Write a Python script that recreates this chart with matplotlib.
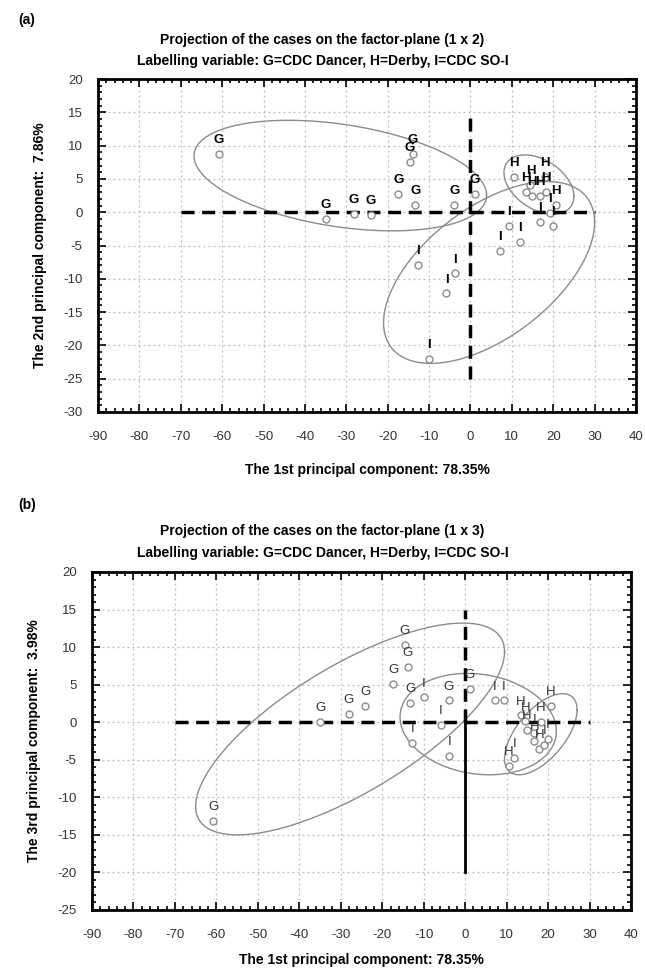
import numpy as np
import matplotlib
matplotlib.use("Agg")
import matplotlib.pyplot as plt
from matplotlib.ticker import MultipleLocator

plt.rcParams['font.family'] = ['Liberation Sans', 'DejaVu Sans']
plt.rcParams['axes.unicode_minus'] = False

# ---------------- data ----------------
g_pc1 = [-60.8, -35.0, -28.1, -24.1, -17.4, -13.9, -14.6, -13.3, -3.9, 1.1]
g_pc2 = [8.8, -1.0, -0.25, -0.35, 2.8, 8.8, 7.6, 1.1, 1.1, 2.8]
g_pc3 = [-13.2, 0.0, 1.1, 2.2, 5.1, 7.4, 10.3, 2.6, 2.9, 4.4]

h_pc1 = [10.6, 13.5, 14.5, 14.8, 16.7, 17.9, 18.3, 20.7]
h_pc2 = [5.3, 3.0, 4.1, 2.4, 2.4, 5.3, 3.0, 1.1]
h_pc3 = [-5.8, 0.9, 0.1, -1.0, -2.5, -3.5, 0.0, 2.2]

i_pc1 = [-12.7, -10.0, -5.8, -3.8, 7.2, 9.3, 11.9, 16.7, 19.1, 20.0]
i_pc2 = [-7.9, -22.0, -12.2, -9.2, -5.8, -2.0, -4.5, -1.5, -0.1, -2.0]
i_pc3 = [-2.8, 3.3, -0.4, -4.5, 2.9, 2.9, -4.8, -1.5, -3.0, -2.2]

group_labels = ['G', 'H', 'I']

# ellipses: (xmin, xmax, ymin, ymax, rho)
ell_a = [(-66.8, 3.9, -2.8, 13.8, -0.355),
         (8.1, 25.0, -0.3, 8.6, -0.40),
         (-21.0, 30.0, -22.7, 4.6, 0.553)]
ell_b = [(-65.0, 9.5, -15.0, 13.2, 0.73),
         (9.5, 27.0, -7.0, 3.8, 0.60),
         (-15.7, 22.0, -7.0, 6.5, -0.14)]

title_a = "Projection of the cases on the factor-plane (1 x 2)"
title_b = "Projection of the cases on the factor-plane (1 x 3)"
subtitle = "Labelling variable: G=CDC Dancer, H=Derby, I=CDC SO-I"
xlab = "The 1st principal component: 78.35%"
ylab_a = "The 2nd principal component:  7.86%"
ylab_b = "The 3rd principal component:  3.98%"

W, H = 645, 973
fig = plt.figure(figsize=(W / 100, H / 100), dpi=100)

def px_axes(l, r, t, b):
    return fig.add_axes([l / W, 1 - b / H, (r - l) / W, (b - t) / H])

def ellipse(ax, spec):
    xmin, xmax, ymin, ymax, rho = spec
    cx, rx = (xmin + xmax) / 2, (xmax - xmin) / 2
    cy, ry = (ymin + ymax) / 2, (ymax - ymin) / 2
    d = np.arccos(rho)
    t = np.linspace(0, 2 * np.pi, 400)
    ax.plot(cx + rx * np.cos(t), cy + ry * np.cos(t - d), color='#8c8c8c', lw=1.0, zorder=2)

def style_axes(ax, ylim, ymaj):
    ax.set_xlim(-90, 40)
    ax.set_ylim(*ylim)
    ax.xaxis.set_major_locator(MultipleLocator(10))
    ax.xaxis.set_minor_locator(MultipleLocator(2))
    ax.yaxis.set_major_locator(MultipleLocator(ymaj))
    ax.yaxis.set_minor_locator(MultipleLocator(1))
    ax.tick_params(which='both', direction='in', top=True, right=True,
                   labelsize=9.5, labelcolor='#333333', width=1.2)
    ax.tick_params(which='major', length=6)
    ax.tick_params(which='minor', length=3)
    ax.tick_params(axis='x', which='major', pad=14)
    ax.tick_params(axis='y', which='major', pad=11)
    for s in ax.spines.values():
        s.set_linewidth(2.0)
    ax.grid(True, which='major', color='#bdbdbd', ls=(0, (1.5, 2.5)), lw=0.9)
    ax.set_axisbelow(True)

def points(ax, xs, ys, lab, bold, color):
    ax.plot(xs, ys, 'o', ms=5, mfc='white', mec='#8c8c8c', mew=1.0, zorder=4, ls='none')
    for x, y in zip(xs, ys):
        ax.annotate(lab, (x, y), xytext=(0, 10), textcoords='offset points',
                    ha='center', va='center', fontsize=9.5,
                    fontweight='bold' if bold else 'normal', color=color, zorder=5)

# ---------------- (a) ----------------
ax1 = px_axes(98, 636, 79, 412)
style_axes(ax1, (-30, 20), 5)
dash = (0, (3.75, 2.2))
ax1.plot([-70, 30], [0, 0], color='black', lw=2.5, ls=dash, zorder=3)
ax1.plot([0, 0], [-25, 15], color='black', lw=2.5, ls=dash, zorder=3)
for spec in ell_a:
    ellipse(ax1, spec)
points(ax1, g_pc1, g_pc2, group_labels[0], True, 'black')
points(ax1, h_pc1, h_pc2, group_labels[1], True, 'black')
points(ax1, i_pc1, i_pc2, group_labels[2], True, 'black')
ax1.set_xlabel(xlab, fontsize=10, fontweight='bold', labelpad=14)
ax1.set_ylabel(ylab_a, fontsize=10, fontweight='bold', labelpad=12)

fig.text(18 / W, 1 - 20 / H, "(a)", fontsize=10, fontweight='bold', ha='left', va='center')
fig.text(0.5, 1 - 40 / H, title_a, fontsize=10, fontweight='bold', ha='center', va='center')
fig.text(0.5, 1 - 61 / H, subtitle, fontsize=10, fontweight='bold', ha='center', va='center')

# ---------------- (b) ----------------
ax2 = px_axes(92, 631, 572, 910)
style_axes(ax2, (-25, 20), 5)
ax2.plot([-70, 30], [0, 0], color='black', lw=2.5, ls=dash, zorder=3)
ax2.plot([0, 0], [0, 15], color='black', lw=2.5, ls=dash, zorder=3)
ax2.plot([0, 0], [-20, 0], color='black', lw=2.0, zorder=3)
for spec in ell_b:
    ellipse(ax2, spec)
points(ax2, g_pc1, g_pc3, group_labels[0], False, '#333333')
points(ax2, h_pc1, h_pc3, group_labels[1], False, '#333333')
points(ax2, i_pc1, i_pc3, group_labels[2], False, '#333333')
ax2.set_xlabel(xlab, fontsize=10, fontweight='bold', labelpad=8)
ax2.set_ylabel(ylab_b, fontsize=10, fontweight='bold', labelpad=12)

fig.text(18 / W, 1 - 505 / H, "(b)", fontsize=10, fontweight='bold', ha='left', va='center')
fig.text(0.5, 1 - 531 / H, title_b, fontsize=10, fontweight='bold', ha='center', va='center')
fig.text(0.5, 1 - 553 / H, subtitle, fontsize=10, fontweight='bold', ha='center', va='center')

fig.savefig("out.png", dpi=100)
